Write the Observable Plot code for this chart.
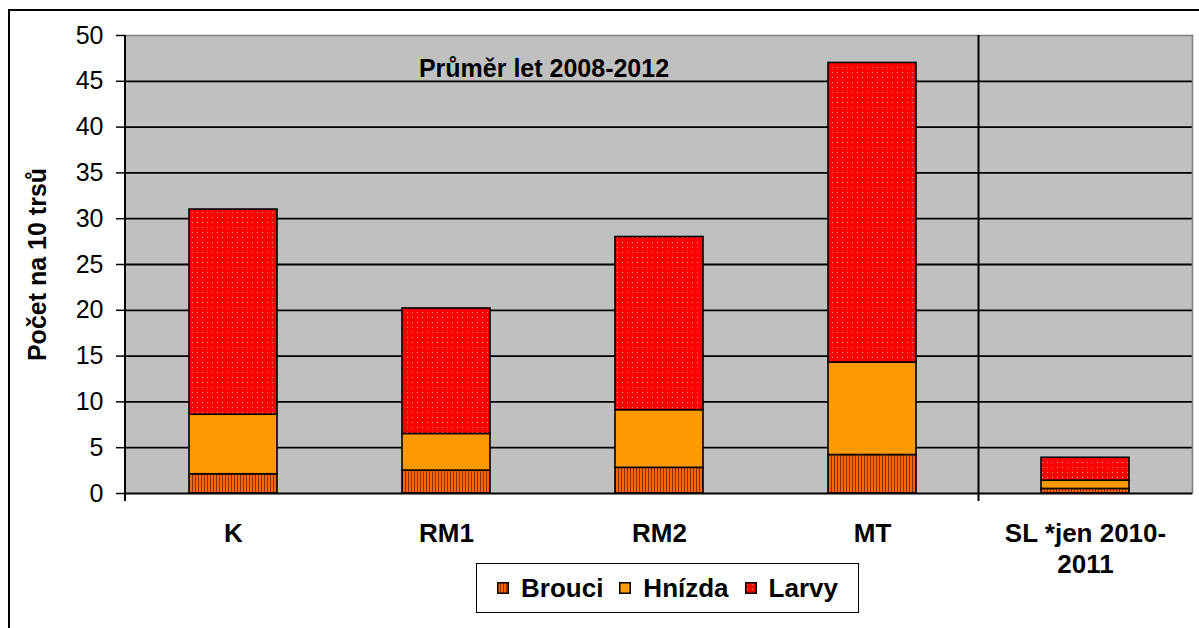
<!DOCTYPE html>
<html><head><meta charset="utf-8">
<script src="https://cdn.jsdelivr.net/npm/d3@7"></script>
<script src="https://cdn.jsdelivr.net/npm/@observablehq/plot@0.6"></script>
<style>
body{margin:0;background:#fff;font-family:"Liberation Sans",Arial,sans-serif;overflow:hidden}
#wrap{position:relative;width:1199px;height:628px;overflow:hidden;background:#fff}
#outer{position:absolute;left:8px;top:9px;width:1300px;height:700px;border:2px solid #000;box-sizing:border-box;pointer-events:none}
#chart{position:absolute;left:0;top:0}
#legend{position:absolute;left:476px;top:563px;width:383px;height:50px;border:1.5px solid #000;box-sizing:border-box;background:#fff;display:flex;align-items:center;justify-content:center;font-weight:bold;font-size:26px;color:#000;font-family:"Liberation Sans",Arial,sans-serif}
#legend .item{display:flex;align-items:center;margin:0 8px}
#legend svg{margin-right:12px}
</style>
</head><body>
<div id="wrap"><div id="outer"></div><div id="chart"></div><div id="legend"></div></div>
<script>
const categories = ["K", "RM1", "RM2", "MT", "SL *jen 2010-\n2011"];
const series = ["Brouci", "Hnízda", "Larvy"];
const brouci = [2.1, 2.5, 2.8, 4.2, 0.5];
const hnizda = [6.5, 4.0, 6.3, 10.1, 0.9];
const larvy = [22.4, 13.7, 18.9, 32.7, 2.5];
const yTicks = [0, 5, 10, 15, 20, 25, 30, 35, 40, 45, 50];
const title = "Průměr let 2008-2012";
const yLabel = "Počet na 10 trsů";

const values = {Brouci: brouci, "Hnízda": hnizda, Larvy: larvy};
const table = [];
for (const s of series) categories.forEach((c, i) => table.push({cat: c, series: s, value: values[s][i]}));

const fills = ["url(#patB)", "url(#patH)", "url(#patL)"];
const font = "Liberation Sans, Arial, sans-serif";

const chart = Plot.plot({
  width: 1199, height: 628,
  marginLeft: 125, marginTop: 35, marginRight: 7, marginBottom: 135,
  style: {fontFamily: font, background: "transparent", overflow: "visible"},
  x: {domain: categories, paddingInner: 0.588, paddingOuter: 0.294},
  y: {domain: [0, 50]},
  color: {type: "ordinal", domain: series, range: fills},
  marks: [
    Plot.frame({fill: "#C0C0C0", stroke: null}),
    Plot.ruleY(yTicks.filter(d => d > 0 && d < 50), {stroke: "#000", strokeWidth: 1.8}),
    Plot.frame({anchor: "top", stroke: "#808080", strokeWidth: 1.5}),
    Plot.frame({anchor: "right", stroke: "#808080", strokeWidth: 1.5}),
    Plot.barY(table, {x: "cat", y: "value", fill: "series", stroke: "#000", strokeWidth: 1.6}),
    Plot.ruleY([0], {stroke: "#000", strokeWidth: 2}),
    Plot.axisY({ticks: yTicks, tickSize: 9, tickPadding: 13, fontSize: 25, stroke: "#000", strokeWidth: 1.5,
      label: yLabel, labelAnchor: "center", labelArrow: false, labelOffset: 97,
      fontWeight: "normal"}),
    Plot.axisX({tickSize: 0, tickPadding: 27, fontSize: 26, fontWeight: "bold", label: null, lineHeight: 1.19}),
    Plot.text([title], {frameAnchor: "top", dx: -115, dy: 24, fontSize: 25, fontWeight: "bold", fill: "#000"})
  ]
});

const svg = d3.select(chart);
const defs = svg.insert("defs", ":first-child");
const pB = defs.append("pattern").attr("id", "patB").attr("patternUnits", "userSpaceOnUse").attr("width", 3).attr("height", 4);
pB.append("rect").attr("width", 3).attr("height", 4).attr("fill", "#FF6600");
pB.append("rect").attr("width", 1).attr("height", 4).attr("fill", "#8B3300");
const pH = defs.append("pattern").attr("id", "patH").attr("patternUnits", "userSpaceOnUse").attr("width", 4).attr("height", 4);
pH.append("rect").attr("width", 4).attr("height", 4).attr("fill", "#FF9900");
const pL = defs.append("pattern").attr("id", "patL").attr("patternUnits", "userSpaceOnUse").attr("width", 5).attr("height", 5);
pL.append("rect").attr("width", 5).attr("height", 5).attr("fill", "#FF0000");
pL.append("rect").attr("x", 2).attr("y", 2).attr("width", 1).attr("height", 1).attr("fill", "#FF9A9A");

// y-axis label styling
svg.selectAll("[aria-label='y-axis label'] text").attr("font-weight", "bold").attr("font-size", 25);

// separator line between MT and SL, plus left axis line, positioned through the scales
const xs = chart.scale("x"), ys = chart.scale("y");
const sepX = xs.apply(categories[4]) - (xs.step - xs.bandwidth) / 2;
const yTop = ys.apply(50), yBottom = ys.apply(0);
svg.append("line").attr("x1", sepX).attr("x2", sepX).attr("y1", yTop).attr("y2", yBottom + 8).attr("stroke", "#000").attr("stroke-width", 2);
const leftX = xs.range[0];
svg.append("line").attr("x1", leftX).attr("x2", leftX).attr("y1", yTop).attr("y2", yBottom + 8).attr("stroke", "#000").attr("stroke-width", 2);

document.getElementById("chart").appendChild(chart);

// legend
const legend = document.getElementById("legend");
series.forEach((s, i) => {
  const item = document.createElement("div");
  item.className = "item";
  item.innerHTML = `<svg width="12" height="12"><rect x="0.75" y="0.75" width="10.5" height="10.5" fill="${fills[i]}" stroke="#000" stroke-width="1.5"/></svg><span>${s}</span>`;
  legend.appendChild(item);
});
</script>
</body></html>
